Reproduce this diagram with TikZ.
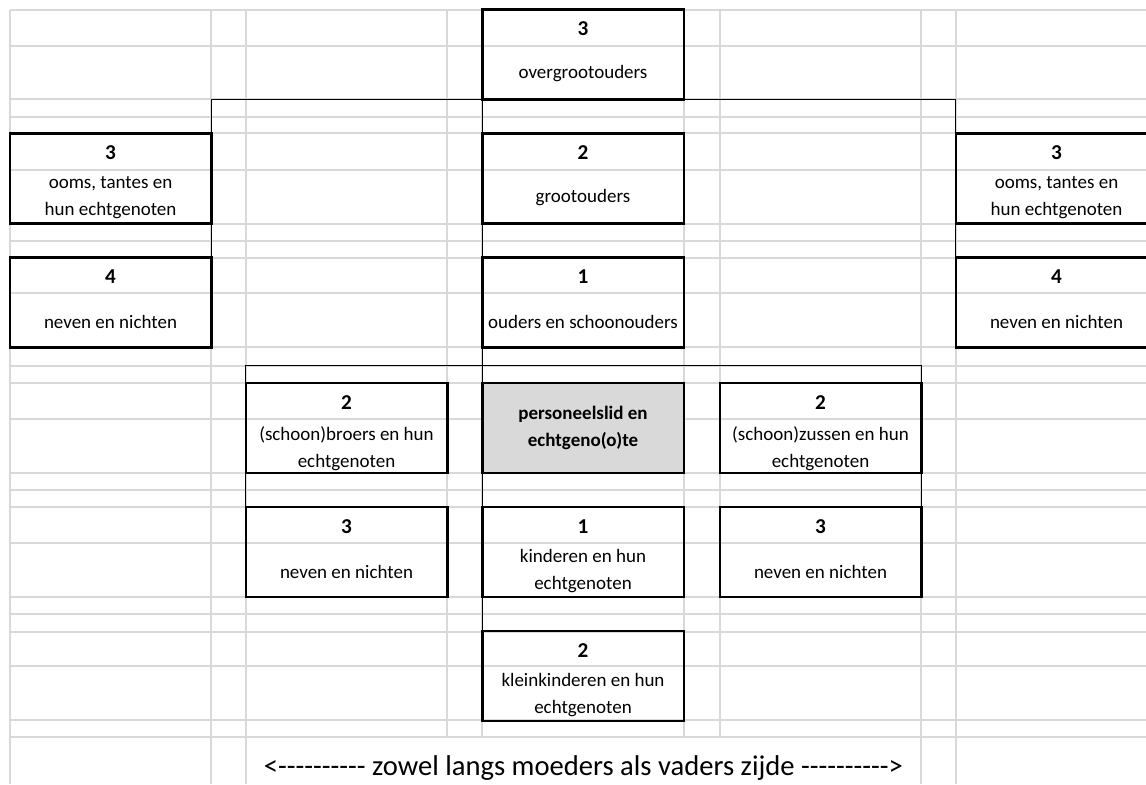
\documentclass[tikz,border=0pt]{standalone}
\usepackage{fontspec}
\setmainfont{Carlito}
\usepackage{tikz}
\usetikzlibrary{calc}
\definecolor{gridgray}{RGB}{217,217,217}
\definecolor{selfgray}{RGB}{217,217,217}
\newcommand{\hy}{-\kern0pt}
\newcommand{\hyrow}{\hy\hy\hy\hy\hy\hy\hy\hy\hy\hy}
\tikzset{x=0.5pt,y=-0.5pt,
  famcell/.style={draw,line width=1.25pt,minimum width=100.75pt,minimum height=45pt,inner sep=0pt,outer sep=0pt},
  rank/.style={font=\fontsize{10.6}{13.5}\selectfont\bfseries,inner sep=0pt},
  desc/.style={font=\fontsize{9.5}{13.5}\selectfont,align=center,inner sep=0pt},
  link/.style={line width=0.65pt},
  gridline/.style={draw=gridgray,line width=0.55pt}}

\begin{document}
\begin{tikzpicture}
    \useasboundingbox (0,0) rectangle (1146,784);
    \clip (0,0) rectangle (1146,784);
    % sheet grid
    \foreach \y in {10,46,99,117,133,170,224,241,258,293,347,366,383,419,473,490,507,543,597,614,632,666,720,737}
        \draw[gridline] (10,\y) -- (1146,\y);
    \foreach \x in {10,211,246,921,956}
        \draw[gridline] (\x,10) -- (\x,784);
    \foreach \x in {447,482,684,720}
        \draw[gridline] (\x,10) -- (\x,737);
    % boxes
    \node[famcell] (overgroot) at (583,54.5) {};
    \node[famcell] (groot) at (583,178.5) {};
    \node[famcell] (oomsL) at (110.5,178.5) {};
    \node[famcell] (oomsR) at (1056.5,178.5) {};
    \node[famcell] (nevenL) at (110.5,302.5) {};
    \node[famcell] (nevenR) at (1056.5,302.5) {};
    \node[famcell] (ouders) at (583,302.5) {};
    \node[famcell] (broers) at (346.5,428) {};
    \node[famcell,fill=selfgray,align=center,font=\fontsize{9.5}{13.5}\selectfont\bfseries] (perslid) at (583,428) {personeelslid en\\echtgeno(o)te};
    \node[famcell] (zussen) at (820.5,428) {};
    \node[famcell] (nevenBL) at (346.5,552) {};
    \node[famcell] (kinderen) at (583,552) {};
    \node[famcell] (nevenBR) at (820.5,552) {};
    \node[famcell] (klein) at (583,676) {};
    % degrees and texts
    \node[rank] (overgroot-n) at (583,29) {3};
    \node[desc] (overgroot-t) at (583,74) {overgrootouders};
    \node[rank] (groot-n) at (583,153) {2};
    \node[desc] (groot-t) at (583,198) {grootouders};
    \node[rank] (oomsL-n) at (110.5,153) {3};
    \node[desc] (oomsL-t) at (110.5,198) {ooms, tantes en\\hun echtgenoten};
    \node[rank] (oomsR-n) at (1056.5,153) {3};
    \node[desc] (oomsR-t) at (1056.5,198) {ooms, tantes en\\hun echtgenoten};
    \node[rank] (nevenL-n) at (110.5,277) {4};
    \node[desc] (nevenL-t) at (110.5,322) {neven en nichten};
    \node[rank] (nevenR-n) at (1056.5,277) {4};
    \node[desc] (nevenR-t) at (1056.5,322) {neven en nichten};
    \node[rank] (ouders-n) at (583,277) {1};
    \node[desc] (ouders-t) at (583,322) {ouders en schoonouders};
    \node[rank] (broers-n) at (346.5,402.5) {2};
    \node[desc] (broers-t) at (346.5,448.5) {(schoon)broers en hun\\echtgenoten};
    \node[rank] (zussen-n) at (820.5,402.5) {2};
    \node[desc] (zussen-t) at (820.5,448.5) {(schoon)zussen en hun\\echtgenoten};
    \node[rank] (nevenBL-n) at (346.5,526.5) {3};
    \node[desc] (nevenBL-t) at (346.5,571.5) {neven en nichten};
    \node[rank] (kinderen-n) at (583,526.5) {1};
    \node[desc] (kinderen-t) at (583,571.5) {kinderen en hun\\echtgenoten};
    \node[rank] (nevenBR-n) at (820.5,526.5) {3};
    \node[desc] (nevenBR-t) at (820.5,571.5) {neven en nichten};
    \node[rank] (klein-n) at (583,650.5) {2};
    \node[desc] (klein-t) at (583,695.5) {kleinkinderen en hun\\echtgenoten};
    \node[font=\fontsize{14.3}{17}\selectfont,anchor=base,inner sep=0pt] (zijde) at (583.5,775)
        {<\hyrow{} zowel langs moeders als vaders zijde \hyrow>};
    % lines between the generations
    \draw[link] (oomsL.north east) |- (overgroot.south) -| (oomsR.north west);
    \draw[link] (overgroot.south west) -- (groot.north west);
    \draw[link] (oomsL.south east) -- (nevenL.north east);
    \draw[link] (oomsR.south west) -- (nevenR.north west);
    \draw[link] (groot.south west) -- (ouders.north west);
    \draw[link] (ouders.south west) -- (perslid.north west);
    \coordinate (sibbar) at ($(ouders.south)!.5!(perslid.north)$);
    \draw[link] (broers.north west) |- (sibbar) -| (zussen.north east);
    \draw[link] (broers.south west) -- (nevenBL.north west);
    \draw[link] (zussen.south east) -- (nevenBR.north east);
    \draw[link] (perslid.south west) -- (kinderen.north west);
    \draw[link] (kinderen.south west) -- (klein.north west);
\end{tikzpicture}
\end{document}
